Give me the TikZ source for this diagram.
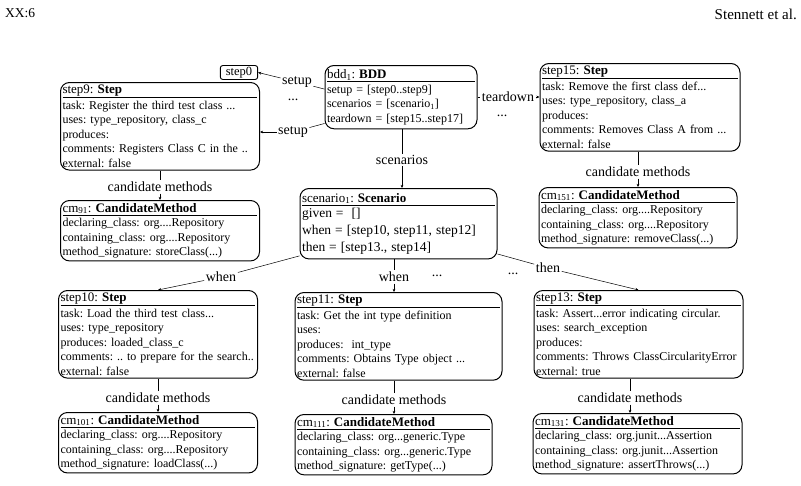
\documentclass[tikz,border=0pt]{standalone}
\usepackage{fontspec}
\setmainfont{Liberation Serif}
\usetikzlibrary{arrows.meta}
\tikzset{
  >={Stealth[length=3.2pt,width=2.8pt]},
  objbox/.style={draw, line width=1pt, rounded corners=9pt, align=left, anchor=north,
    inner xsep=2pt, inner ysep=2.5pt, font=\fontsize{12}{14.6}\selectfont},
  lbl/.style={font=\fontsize{14}{15}\selectfont, inner sep=1.5pt},
  link/.style={line width=0.5pt},
}
\newcommand{\objhead}[2]{{\fontsize{13}{14}\selectfont #1: \textbf{#2}\par}\vspace{1pt}\hrule height 0.8pt\vspace{2.5pt}}
\frenchspacing

\begin{document}
\begin{tikzpicture}[x=1pt, y=-1pt]
\useasboundingbox (0,0) rectangle (801,485);

% page header
\node[anchor=west, font=\fontsize{13.5}{15}\selectfont, inner sep=0pt] (pageno) at (5,13) {XX:6};
\node[anchor=east, font=\fontsize{15}{16}\selectfont, inner sep=0pt] (authors) at (797,14) {Stennett et al.};

% bdd and scenario
\node[objbox, text width=148pt, inner ysep=4pt] (bdd) at (401,65) {\objhead{bdd\textsubscript{1}}{BDD}
setup = [step0..step9]\\
scenarios = [scenario\textsubscript{1}]\\
teardown = [step15..step17]};
\node[objbox, text width=193pt, inner ysep=4.5pt] (scenario) at (398.5,188) {\objhead{scenario\textsubscript{1}}{Scenario}
{\fontsize{13.5}{17}\selectfont given = \ []\\
when = [step10, step11, step12]\\
then = [step13., step14]\par}};
\node[draw, line width=0.9pt, rounded corners=2.5pt, inner xsep=5.5pt, inner ysep=1.5pt,
  font=\fontsize{12.5}{13}\selectfont] (step0) at (239,72.5) {step0};

% setup steps
\node[objbox, text width=195pt] (step9) at (160,82) {\objhead{step9}{Step}
task: Register the third test class ...\\
uses: type\_repository, class\_c\\
produces:\\
comments: Registers Class C in the ..\\
external: false};
\node[objbox, text width=195pt] (cm91) at (160,200) {\objhead{cm\textsubscript{91}}{CandidateMethod}
declaring\_class: org....Repository\\
containing\_class: org....Repository\\
method\_signature: storeClass(...)};

% teardown steps
\node[objbox, text width=196pt] (step15) at (640,63) {\objhead{step15}{Step}
task: Remove the first class def...\\
uses: type\_repository, class\_a\\
produces:\\
comments: Removes Class A from ...\\
external: false};
\node[objbox, text width=194pt] (cm151) at (638,187) {\objhead{cm\textsubscript{151}}{CandidateMethod}
declaring\_class: org....Repository\\
containing\_class: org....Repository\\
method\_signature: removeClass(...)};

% when / then steps
\node[objbox, text width=195pt] (step10) at (158,290) {\objhead{step10}{Step}
task: Load the third test class...\\
uses: type\_repository\\
produces: loaded\_class\_c\\
comments: .. to prepare for the search..\\
external: false};
\node[objbox, text width=195pt] (cm101) at (158,412) {\objhead{cm\textsubscript{101}}{CandidateMethod}
declaring\_class: org....Repository\\
containing\_class: org....Repository\\
method\_signature: loadClass(...)};
\node[objbox, text width=203pt] (step11) at (398.5,292) {\objhead{step11}{Step}
task: Get the int type definition\\
uses:\\
produces: \ int\_type\\
comments: Obtains Type object ...\\
external: false};
\node[objbox, text width=193pt] (cm111) at (393.5,414) {\objhead{cm\textsubscript{111}}{CandidateMethod}
declaring\_class: org...generic.Type\\
containing\_class: org...generic.Type\\
method\_signature: getType(...)};
\node[objbox, text width=205pt] (step13) at (638.5,290) {\objhead{step13}{Step}
task: Assert...error indicating circular.\\
uses: search\_exception\\
produces:\\
comments: Throws ClassCircularityError\\
external: true};
\node[objbox, text width=205pt] (cm131) at (637.5,413) {\objhead{cm\textsubscript{131}}{CandidateMethod}
declaring\_class: org.junit...Assertion\\
containing\_class: org.junit...Assertion\\
method\_signature: assertThrows(...)};

% labels
\node[lbl] (setupA) at (297,82) {setup};
\node[lbl] (dotsA) at (293,100) {...};
\node[lbl] (setupB) at (293,132) {setup};
\node[lbl] (tdown) at (508,97) {teardown};
\node[lbl] (dotsT) at (502,116) {...};
\node[lbl] (scen) at (402,160) {scenarios};
\node[lbl] (whenA) at (221,277) {when};
\node[lbl] (whenB) at (394,277) {when};
\node[lbl] (dotsW) at (437,276) {...};
\node[lbl] (dotsX) at (513,274) {...};
\node[lbl] (thenC) at (548,268) {then};
\node[lbl] (c9) at (160,187) {candidate methods};
\node[lbl] (c15) at (638,172) {candidate methods};
\node[lbl] (c10) at (158,398) {candidate methods};
\node[lbl] (c11) at (394,400) {candidate methods};
\node[lbl] (c13) at (630,398) {candidate methods};

% connectors
\draw[link] (bdd.174) -- (setupA);
\draw[link,->] (setupA) -- (step0.east);
\draw[link] (bdd.199) -- (setupB);
\draw[link,->] (setupB) -- (step9.east |- setupB);
\draw[link] (bdd.east |- tdown) -- (tdown);
\draw[link,->] (tdown) -- (step15.west |- tdown);
\draw[link] (bdd.south -| scen) -- (scen);
\draw[link,->] (scen) -- (scenario.north -| scen);
\draw[link] (scenario.198) -- (whenA);
\draw[link,->] (whenA) -- (step10.north);
\draw[link] (scenario.south -| whenB) -- (whenB);
\draw[link,->] (whenB) -- (step11.north -| whenB);
\draw[link] (scenario.343) -- (thenC);
\draw[link,->] (thenC) -- (step13.north);

\draw[link] (step9) -- (c9);
\draw[link,->] (c9) -- (cm91);
\draw[link] (step15.south -| c15) -- (c15);
\draw[link,->] (c15) -- (cm151.north -| c15);
\draw[link] (step10) -- (c10);
\draw[link,->] (c10) -- (cm101);
\draw[link] (step11.south -| c11) -- (c11);
\draw[link,->] (c11) -- (cm111.north -| c11);
\draw[link] (step13.south -| c13) -- (c13);
\draw[link,->] (c13) -- (cm131.north -| c13);
\end{tikzpicture}
\end{document}
